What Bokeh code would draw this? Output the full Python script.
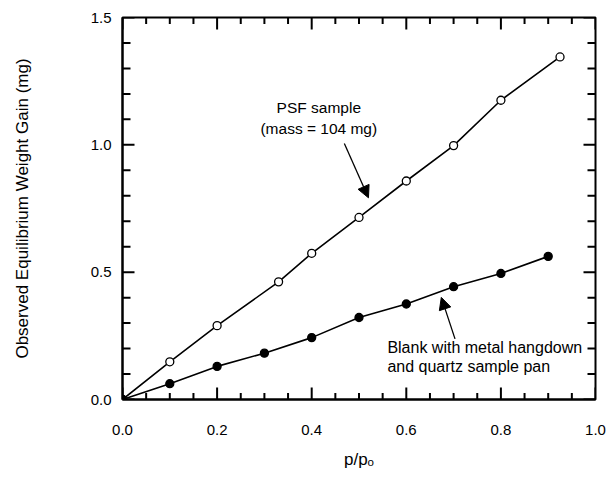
import numpy as np
from bokeh.plotting import figure
from bokeh.models import (Range1d, SingleIntervalTicker, Arrow, NormalHead,
                          Label, NumeralTickFormatter)
from bokeh.embed import file_html
from bokeh.resources import INLINE

# ---- data ----
psf_x = [0.0, 0.10, 0.20, 0.33, 0.40, 0.50, 0.60, 0.70, 0.80, 0.925]
psf_y = [0.0, 0.148, 0.29, 0.462, 0.574, 0.715, 0.858, 0.997, 1.175, 1.345]

blank_x = [0.0, 0.10, 0.20, 0.30, 0.40, 0.50, 0.60, 0.70, 0.80, 0.90]
blank_y = [0.0, 0.062, 0.13, 0.182, 0.243, 0.322, 0.375, 0.443, 0.495, 0.562]

x_label = "p/p\u2092"
y_label = "Observed Equilibrium Weight Gain (mg)"

x_major = [0.0, 0.2, 0.4, 0.6, 0.8, 1.0]
y_major = [0.0, 0.5, 1.0, 1.5]

psf_text = ["PSF sample", "(mass = 104 mg)"]
psf_text_x = 0.415
psf_text_y = [1.148, 1.063]
psf_arrow = [0.469, 1.005, 0.520, 0.792]   # x_start, y_start, x_end, y_end

blank_text = ["Blank with metal hangdown", "and quartz sample pan"]
blank_text_x = 0.56
blank_text_y = [0.206, 0.131]
blank_arrow = [0.703, 0.238, 0.674, 0.401]

FONT = "Liberation Sans"
X0, X1, Y0, Y1 = 0.0, 1.0, 0.0, 1.5

p = figure(width=609, height=478, output_backend="svg", toolbar_location=None,
           x_range=Range1d(X0, X1), y_range=Range1d(Y0, Y1),
           min_border_left=122, min_border_right=14, min_border_top=17, min_border_bottom=79)
p.grid.visible = False
p.outline_line_color = "black"
p.outline_line_width = 2
p.background_fill_color = "white"
p.border_fill_color = "white"

xt = SingleIntervalTicker(interval=0.2, num_minor_ticks=4)
yt = SingleIntervalTicker(interval=0.5, num_minor_ticks=5)

for ax, tk, standoff, lab, lab_standoff in ((p.xaxis[0], xt, 25, x_label, 12),
                                            (p.yaxis[0], yt, 11, y_label, 56)):
    ax.ticker = tk
    ax.formatter = NumeralTickFormatter(format="0.0")
    ax.axis_line_width = 2
    ax.axis_line_color = "black"
    ax.major_tick_in = 0
    ax.major_tick_out = 0
    ax.minor_tick_in = 0
    ax.minor_tick_out = 0
    ax.major_label_text_font = FONT
    ax.major_label_text_font_size = "15px"
    ax.major_label_text_color = "black"
    ax.major_label_standoff = standoff
    ax.axis_label = lab
    ax.axis_label_text_font = FONT
    ax.axis_label_text_font_size = "17px"
    ax.axis_label_text_font_style = "normal"
    ax.axis_label_text_color = "black"
    ax.axis_label_standoff = lab_standoff

# inward ticks on all four sides (half of each dash is clipped by the frame)
x_minor = [v for v in np.round(np.arange(X0, X1 + 1e-9, 0.05), 2) if v not in x_major]
y_minor = [v for v in np.round(np.arange(Y0, Y1 + 1e-9, 0.1), 1) if v not in y_major]
for vals, size in ((x_major, 24), (x_minor, 13)):
    p.scatter(vals, [Y0] * len(vals), marker="dash", angle=np.pi / 2, size=size,
              line_color="black", line_width=2)
    p.scatter(vals, [Y1] * len(vals), marker="dash", angle=np.pi / 2, size=size,
              line_color="black", line_width=2)
for vals, size in ((y_major, 24), (y_minor, 16)):
    p.scatter([X0] * len(vals), vals, marker="dash", size=size,
              line_color="black", line_width=2)
    p.scatter([X1] * len(vals), vals, marker="dash", size=size,
              line_color="black", line_width=2)

# data lines and markers
p.line(psf_x, psf_y, line_color="black", line_width=1.6)
p.line(blank_x, blank_y, line_color="black", line_width=1.6)
p.scatter(psf_x, psf_y, size=8, marker="circle", fill_color="white",
          line_color="black", line_width=1.3)
p.scatter(blank_x, blank_y, size=8, marker="circle", fill_color="black",
          line_color="black", line_width=1.3)

# annotations
for t, yy in zip(psf_text, psf_text_y):
    p.add_layout(Label(x=psf_text_x, y=yy, text=t, text_align="center",
                       text_baseline="alphabetic", text_font=FONT,
                       text_font_size="15.5px", text_color="black"))
for t, yy in zip(blank_text, blank_text_y):
    p.add_layout(Label(x=blank_text_x, y=yy, text=t, text_align="left",
                       text_baseline="alphabetic", text_font=FONT,
                       text_font_size="16px", text_color="black"))

for a in (psf_arrow, blank_arrow):
    p.add_layout(Arrow(x_start=a[0], y_start=a[1], x_end=a[2], y_end=a[3],
                       line_color="black", line_width=1.3,
                       end=NormalHead(size=12, fill_color="black", line_color="black")))

open("out.html", "w").write(file_html(p, INLINE))
